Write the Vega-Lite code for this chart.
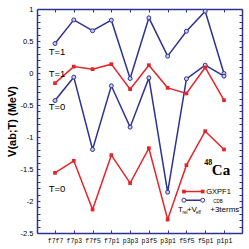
{
  "$schema": "https://vega.github.io/schema/vega-lite/v6.json",
  "width": 205,
  "height": 224,
  "autosize": {"type": "none"},
  "padding": {"left": 37, "top": 9, "right": 7, "bottom": 16},
  "config": {"view": {"stroke": null}, "font": "Liberation Sans"},
  "datasets": {
    "main": [
      {"pair": "f7f7", "V": 0.46, "model": "CDB", "T": "1"},
      {"pair": "f7p3", "V": 0.83, "model": "CDB", "T": "1"},
      {"pair": "f7f5", "V": 0.66, "model": "CDB", "T": "1"},
      {"pair": "f7p1", "V": 0.825, "model": "CDB", "T": "1"},
      {"pair": "p3p3", "V": -0.086, "model": "CDB", "T": "1"},
      {"pair": "p3f5", "V": 0.862, "model": "CDB", "T": "1"},
      {"pair": "p3p1", "V": 0.263, "model": "CDB", "T": "1"},
      {"pair": "f5f5", "V": 0.653, "model": "CDB", "T": "1"},
      {"pair": "f5p1", "V": 0.966, "model": "CDB", "T": "1"},
      {"pair": "p1p1", "V": -0.008, "model": "CDB", "T": "1"},
      {"pair": "f7f7", "V": -0.43, "model": "CDB", "T": "0"},
      {"pair": "f7p3", "V": -0.065, "model": "CDB", "T": "0"},
      {"pair": "f7f5", "V": -1.195, "model": "CDB", "T": "0"},
      {"pair": "f7p1", "V": -0.2, "model": "CDB", "T": "0"},
      {"pair": "p3p3", "V": -0.846, "model": "CDB", "T": "0"},
      {"pair": "p3f5", "V": -0.076, "model": "CDB", "T": "0"},
      {"pair": "p3p1", "V": -1.862, "model": "CDB", "T": "0"},
      {"pair": "f5f5", "V": -0.091, "model": "CDB", "T": "0"},
      {"pair": "f5p1", "V": 0.122, "model": "CDB", "T": "0"},
      {"pair": "p1p1", "V": -0.05, "model": "CDB", "T": "0"},
      {"pair": "f7f7", "V": -0.159, "model": "GXPF1", "T": "1"},
      {"pair": "f7p3", "V": 0.1, "model": "GXPF1", "T": "1"},
      {"pair": "f7f5", "V": 0.06, "model": "GXPF1", "T": "1"},
      {"pair": "f7p1", "V": 0.138, "model": "GXPF1", "T": "1"},
      {"pair": "p3p3", "V": -0.253, "model": "GXPF1", "T": "1"},
      {"pair": "p3f5", "V": 0.122, "model": "GXPF1", "T": "1"},
      {"pair": "p3p1", "V": -0.232, "model": "GXPF1", "T": "1"},
      {"pair": "f5f5", "V": -0.32, "model": "GXPF1", "T": "1"},
      {"pair": "f5p1", "V": 0.086, "model": "GXPF1", "T": "1"},
      {"pair": "p1p1", "V": -0.425, "model": "GXPF1", "T": "1"},
      {"pair": "f7f7", "V": -1.56, "model": "GXPF1", "T": "0"},
      {"pair": "f7p3", "V": -1.372, "model": "GXPF1", "T": "0"},
      {"pair": "f7f5", "V": -2.133, "model": "GXPF1", "T": "0"},
      {"pair": "f7p1", "V": -1.284, "model": "GXPF1", "T": "0"},
      {"pair": "p3p3", "V": -1.72, "model": "GXPF1", "T": "0"},
      {"pair": "p3f5", "V": -1.175, "model": "GXPF1", "T": "0"},
      {"pair": "p3p1", "V": -2.289, "model": "GXPF1", "T": "0"},
      {"pair": "f5f5", "V": -1.44, "model": "GXPF1", "T": "0"},
      {"pair": "f5p1", "V": -0.909, "model": "GXPF1", "T": "0"},
      {"pair": "p1p1", "V": -1.195, "model": "GXPF1", "T": "0"}
    ],
    "tlabels": [
      {"pair": "f7f7", "V": 0.328, "label": "T=1"},
      {"pair": "f7f7", "V": -0.023, "label": "T=1"},
      {"pair": "f7f7", "V": -0.539, "label": "T=0"},
      {"pair": "f7f7", "V": -1.805, "label": "T=0"}
    ],
    "legend": [
      {"pair": "f5f5", "V": -1.852, "model": "GXPF1"},
      {"pair": "f5p1", "V": -1.852, "model": "GXPF1"},
      {"pair": "f5f5", "V": -1.988, "model": "CDB"},
      {"pair": "f5p1", "V": -1.988, "model": "CDB"}
    ]
  },
  "layer": [
    {
      "data": {"name": "main"},
      "mark": {"type": "line", "strokeWidth": 1.5},
      "encoding": {
        "x": {
          "field": "pair", "type": "ordinal",
          "scale": {"type": "point", "padding": 0.96, "domain": ["f7f7", "f7p3", "f7f5", "f7p1", "p3p3", "p3f5", "p3p1", "f5f5", "f5p1", "p1p1"]},
          "axis": {
            "orient": "bottom", "title": null, "labelAngle": 0,
            "labelFont": "Liberation Mono", "labelFontSize": 6.5, "labelColor": "#000",
            "tickSize": -3, "labelPadding": 7, "tickColor": "#2e3192", "domainColor": "#2e3192",
            "domainWidth": 1.5, "tickWidth": 1, "grid": false
          }
        },
        "y": {
          "field": "V", "type": "quantitative",
          "scale": {"domain": [-2.5, 1], "nice": false, "zero": false},
          "axis": {
            "orient": "left",
            "values": [-2.5, -2.4, -2.3, -2.2, -2.1, -2, -1.9, -1.8, -1.7, -1.6, -1.5, -1.4, -1.3, -1.2, -1.1, -1, -0.9, -0.8, -0.7, -0.6, -0.5, -0.4, -0.3, -0.2, -0.1, 0, 0.1, 0.2, 0.3, 0.4, 0.5, 0.6, 0.7, 0.8, 0.9, 1],
            "labelExpr": "abs(datum.value*2-round(datum.value*2))<0.001 ? datum.value+'' : ''",
            "tickSize": -3, "labelPadding": 7, "labelFontSize": 7.5, "labelColor": "#000",
            "labelOverlap": false, "labelBound": false,
            "tickColor": "#2e3192", "domainColor": "#2e3192", "domainWidth": 1.5, "tickWidth": 1,
            "grid": false,
            "title": "V(ab;T) (MeV)", "titleFontSize": 11, "titleFontWeight": "bold", "titleColor": "#000", "titlePadding": 3
          }
        },
        "color": {"field": "model", "type": "nominal", "scale": {"domain": ["GXPF1", "CDB"], "range": ["#e3262b", "#2e3192"]}, "legend": null},
        "detail": {"field": "T"}
      }
    },
    {
      "data": {"name": "main"},
      "transform": [{"filter": "datum.model === 'CDB'"}],
      "mark": {"type": "point", "shape": "circle", "filled": false, "fill": "#c9cde9", "stroke": "#2e3192", "strokeWidth": 1, "size": 16, "opacity": 1},
      "encoding": {
        "x": {
          "field": "pair", "type": "ordinal",
          "axis": {"orient": "top", "labels": false, "title": null, "tickSize": -3, "tickColor": "#2e3192", "domainColor": "#2e3192", "domainWidth": 1.5, "tickWidth": 1, "grid": false}
        },
        "y": {
          "field": "V", "type": "quantitative",
          "axis": {
            "orient": "right", "labels": false, "title": null,
            "values": [-2.5, -2.4, -2.3, -2.2, -2.1, -2, -1.9, -1.8, -1.7, -1.6, -1.5, -1.4, -1.3, -1.2, -1.1, -1, -0.9, -0.8, -0.7, -0.6, -0.5, -0.4, -0.3, -0.2, -0.1, 0, 0.1, 0.2, 0.3, 0.4, 0.5, 0.6, 0.7, 0.8, 0.9, 1],
            "tickSize": -3, "tickColor": "#2e3192", "domainColor": "#2e3192", "domainWidth": 1.5, "tickWidth": 1, "grid": false
          }
        }
      }
    },
    {
      "data": {"name": "main"},
      "transform": [{"filter": "datum.model === 'GXPF1'"}],
      "mark": {"type": "square", "filled": true, "color": "#e3262b", "size": 14, "opacity": 1},
      "encoding": {
        "x": {"field": "pair", "type": "ordinal", "axis": null},
        "y": {"field": "V", "type": "quantitative", "axis": null}
      }
    },
    {
      "data": {"name": "tlabels"},
      "mark": {"type": "text", "fontSize": 9.5, "align": "center", "baseline": "middle", "dx": 2, "color": "#000"},
      "encoding": {
        "x": {"field": "pair", "type": "ordinal", "axis": null},
        "y": {"field": "V", "type": "quantitative", "axis": null},
        "text": {"field": "label"}
      }
    },
    {
      "data": {"values": [{"pair": "p1p1", "V": -1.508, "label": "Ca"}]},
      "mark": {"type": "text", "font": "Liberation Serif", "fontWeight": "bold", "fontSize": 15, "align": "center", "baseline": "middle", "dx": -3, "color": "#000"},
      "encoding": {
        "x": {"field": "pair", "type": "ordinal", "axis": null},
        "y": {"field": "V", "type": "quantitative", "axis": null},
        "text": {"field": "label"}
      }
    },
    {
      "data": {"values": [{"pair": "f5p1", "V": -1.414, "label": "48"}]},
      "mark": {"type": "text", "font": "Liberation Serif", "fontWeight": "bold", "fontSize": 8, "align": "center", "baseline": "middle", "dx": 3, "color": "#000"},
      "encoding": {
        "x": {"field": "pair", "type": "ordinal", "axis": null},
        "y": {"field": "V", "type": "quantitative", "axis": null},
        "text": {"field": "label"}
      }
    },
    {
      "data": {"name": "legend"},
      "mark": {"type": "line", "strokeWidth": 1.5},
      "encoding": {
        "x": {"field": "pair", "type": "ordinal", "axis": null},
        "xOffset": {"value": -2.5},
        "y": {"field": "V", "type": "quantitative", "axis": null},
        "color": {"field": "model", "type": "nominal", "legend": null},
        "detail": {"field": "model"}
      }
    },
    {
      "data": {"name": "legend"},
      "transform": [{"filter": "datum.model === 'CDB'"}],
      "mark": {"type": "point", "shape": "circle", "filled": false, "fill": "#ffffff", "stroke": "#2e3192", "strokeWidth": 1, "size": 16, "opacity": 1},
      "encoding": {
        "x": {"field": "pair", "type": "ordinal", "axis": null},
        "xOffset": {"value": -2.5},
        "y": {"field": "V", "type": "quantitative", "axis": null}
      }
    },
    {
      "data": {"name": "legend"},
      "transform": [{"filter": "datum.model === 'GXPF1'"}],
      "mark": {"type": "square", "filled": true, "color": "#e3262b", "size": 14, "opacity": 1},
      "encoding": {
        "x": {"field": "pair", "type": "ordinal", "axis": null},
        "xOffset": {"value": -2.5},
        "y": {"field": "V", "type": "quantitative", "axis": null}
      }
    },
    {
      "data": {"values": [{"pair": "f5p1", "V": -1.852, "label": "GXPF1"}]},
      "mark": {"type": "text", "fontSize": 7.5, "align": "left", "baseline": "middle", "dx": 1, "color": "#000"},
      "encoding": {
        "x": {"field": "pair", "type": "ordinal", "axis": null},
        "y": {"field": "V", "type": "quantitative", "axis": null},
        "text": {"field": "label"}
      }
    },
    {
      "data": {"values": [{"pair": "f5f5", "V": -2.133, "label": "T"}]},
      "mark": {"type": "text", "fontSize": 8, "align": "left", "baseline": "middle", "dx": -8.5, "color": "#000"},
      "encoding": {
        "x": {"field": "pair", "type": "ordinal", "axis": null},
        "y": {"field": "V", "type": "quantitative", "axis": null},
        "text": {"field": "label"}
      }
    },
    {
      "data": {"values": [{"pair": "f5f5", "V": -2.19, "label": "rel"}]},
      "mark": {"type": "text", "fontSize": 4.5, "align": "left", "baseline": "middle", "dx": -4, "color": "#000"},
      "encoding": {
        "x": {"field": "pair", "type": "ordinal", "axis": null},
        "y": {"field": "V", "type": "quantitative", "axis": null},
        "text": {"field": "label"}
      }
    },
    {
      "data": {"values": [{"pair": "f5f5", "V": -2.133, "label": "+V"}]},
      "mark": {"type": "text", "fontSize": 8, "align": "left", "baseline": "middle", "dx": 0.5, "color": "#000"},
      "encoding": {
        "x": {"field": "pair", "type": "ordinal", "axis": null},
        "y": {"field": "V", "type": "quantitative", "axis": null},
        "text": {"field": "label"}
      }
    },
    {
      "data": {"values": [{"pair": "f5f5", "V": -2.19, "label": "eff"}]},
      "mark": {"type": "text", "fontSize": 4.5, "align": "left", "baseline": "middle", "dx": 9.5, "color": "#000"},
      "encoding": {
        "x": {"field": "pair", "type": "ordinal", "axis": null},
        "y": {"field": "V", "type": "quantitative", "axis": null},
        "text": {"field": "label"}
      }
    },
    {
      "data": {"values": [{"pair": "f5p1", "V": -2.02, "label": "CDB"}]},
      "mark": {"type": "text", "fontSize": 4.5, "align": "left", "baseline": "middle", "dx": 8, "color": "#000"},
      "encoding": {
        "x": {"field": "pair", "type": "ordinal", "axis": null},
        "y": {"field": "V", "type": "quantitative", "axis": null},
        "text": {"field": "label"}
      }
    },
    {
      "data": {"values": [{"pair": "f5p1", "V": -2.14, "label": "+3terms"}]},
      "mark": {"type": "text", "fontSize": 8, "align": "left", "baseline": "middle", "dx": 5, "color": "#000"},
      "encoding": {
        "x": {"field": "pair", "type": "ordinal", "axis": null},
        "y": {"field": "V", "type": "quantitative", "axis": null},
        "text": {"field": "label"}
      }
    }
  ],
  "resolve": {"axis": {"x": "independent", "y": "independent"}}
}
